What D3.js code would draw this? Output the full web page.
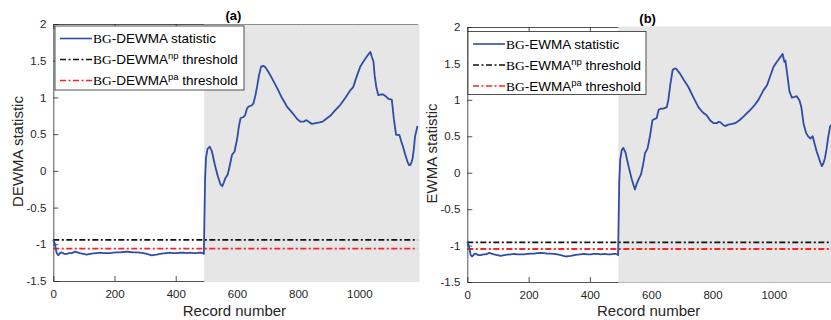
<!DOCTYPE html>
<html>
<head>
<meta charset="utf-8">
<script src="https://cdn.jsdelivr.net/npm/d3@7"></script>
<style>
  body { margin: 0; background: #fff; }
  svg { display: block; font-family: "Liberation Sans", Arial, sans-serif; }
</style>
</head>
<body>
<svg id="chart" width="831" height="320"></svg>
<script>
// record index where the out-of-control region starts
const shiftStart = 493;
const recordMax = 1190;

const yTicks = [-1.5, -1, -0.5, 0, 0.5, 1, 1.5, 2];
const xTicks = [0, 200, 400, 600, 800, 1000];

// panel (a): BG-DEWMA statistic
const dewmaStat = [
    [0, -0.94], [5, -0.99], [11, -1.12], [16, -1.15], [22, -1.12], [27, -1.11], [35, -1.13], [44, -1.13],
    [52, -1.12], [60, -1.12], [66, -1.11], [71, -1.10], [79, -1.11], [87, -1.12], [98, -1.13], [109, -1.14],
    [120, -1.13], [131, -1.125], [142, -1.12], [153, -1.115], [163, -1.12], [174, -1.12], [185, -1.12],
    [196, -1.115], [207, -1.11], [218, -1.11], [229, -1.105], [240, -1.10], [250, -1.105], [261, -1.11],
    [272, -1.11], [283, -1.115], [294, -1.12], [305, -1.13], [314, -1.14], [322, -1.15], [330, -1.145],
    [338, -1.14], [349, -1.13], [360, -1.125], [370, -1.12], [381, -1.115], [392, -1.12], [403, -1.12],
    [414, -1.115], [425, -1.115], [436, -1.12], [447, -1.115], [458, -1.12], [468, -1.12], [477, -1.115],
    [485, -1.115], [492, -1.13],
    [494, -0.6], [496, -0.1], [499, 0.18], [504, 0.30], [511, 0.33], [518, 0.27], [528, 0.08], [538, -0.08],
    [546, -0.18], [552, -0.21], [557, -0.16], [562, -0.10], [570, -0.05], [578, 0.10], [584, 0.22],
    [592, 0.26], [600, 0.42], [607, 0.62], [612, 0.72], [620, 0.73], [627, 0.76], [633, 0.85], [640, 0.88],
    [648, 0.89], [654, 0.92], [660, 1.02], [666, 1.15], [672, 1.30], [679, 1.42], [686, 1.43], [693, 1.41],
    [704, 1.34], [716, 1.25], [731, 1.13], [745, 1.01], [756, 0.93], [764, 0.87], [775, 0.82], [785, 0.77],
    [796, 0.71], [807, 0.67], [818, 0.67], [825, 0.69], [831, 0.68], [837, 0.66], [845, 0.64], [858, 0.65],
    [870, 0.66], [880, 0.67], [892, 0.71], [905, 0.75], [920, 0.82], [938, 0.90], [955, 1.00], [971, 1.10],
    [980, 1.14], [990, 1.27], [1003, 1.42], [1015, 1.50], [1025, 1.56], [1036, 1.62], [1041, 1.55],
    [1046, 1.49], [1050, 1.30], [1055, 1.15], [1062, 1.03], [1070, 1.04], [1078, 1.04], [1085, 1.02],
    [1095, 0.98], [1106, 0.97], [1113, 0.70], [1120, 0.49], [1131, 0.49], [1137, 0.40], [1144, 0.31],
    [1150, 0.22], [1157, 0.13], [1162, 0.08], [1166, 0.08], [1170, 0.11], [1174, 0.17], [1178, 0.30],
    [1182, 0.47], [1190, 0.61]
];
const dewmaNpThreshold = -0.94;
const dewmaPaThreshold = -1.06;

// panel (b): BG-EWMA statistic
const ewmaStat = [
    [0, -0.95], [5, -1.00], [11, -1.13], [16, -1.15], [22, -1.12], [27, -1.11], [35, -1.13], [44, -1.13],
    [52, -1.12], [60, -1.12], [66, -1.11], [71, -1.10], [79, -1.11], [87, -1.12], [98, -1.13], [109, -1.14],
    [120, -1.13], [131, -1.125], [142, -1.12], [153, -1.115], [163, -1.12], [174, -1.12], [185, -1.12],
    [196, -1.115], [207, -1.11], [218, -1.11], [229, -1.105], [240, -1.10], [250, -1.105], [261, -1.11],
    [272, -1.11], [283, -1.115], [294, -1.12], [305, -1.13], [314, -1.14], [322, -1.15], [330, -1.145],
    [338, -1.14], [349, -1.13], [360, -1.125], [370, -1.12], [381, -1.115], [392, -1.12], [403, -1.12],
    [414, -1.115], [425, -1.115], [436, -1.12], [447, -1.115], [458, -1.12], [468, -1.12], [477, -1.115],
    [485, -1.115], [492, -1.13],
    [494, -0.6], [496, -0.1], [499, 0.18], [504, 0.31], [509, 0.34], [516, 0.28], [526, 0.09], [536, -0.08],
    [543, -0.18], [547, -0.23], [553, -0.15], [560, -0.08], [567, -0.02], [574, 0.12], [580, 0.27],
    [588, 0.33], [596, 0.50], [604, 0.72], [612, 0.74], [618, 0.75], [624, 0.86], [632, 0.88], [640, 0.88],
    [651, 0.90], [656, 1.00], [662, 1.20], [670, 1.41], [676, 1.43], [681, 1.43], [694, 1.36], [707, 1.27],
    [721, 1.18], [737, 1.04], [754, 0.90], [768, 0.83], [781, 0.79], [792, 0.72], [803, 0.68], [814, 0.68],
    [820, 0.70], [826, 0.69], [834, 0.66], [841, 0.64], [852, 0.66], [864, 0.67], [874, 0.68], [888, 0.72],
    [901, 0.77], [918, 0.84], [934, 0.91], [950, 1.00], [966, 1.13], [978, 1.20], [988, 1.32], [999, 1.45],
    [1008, 1.51], [1015, 1.55], [1022, 1.59], [1029, 1.63], [1033, 1.55], [1035, 1.52], [1038, 1.54],
    [1044, 1.35], [1051, 1.12], [1059, 1.03], [1068, 1.04], [1075, 1.05], [1084, 0.99], [1090, 0.90],
    [1097, 0.68], [1105, 0.55], [1112, 0.50], [1119, 0.47], [1127, 0.50], [1133, 0.40], [1140, 0.29],
    [1146, 0.22], [1152, 0.14], [1157, 0.09], [1162, 0.13], [1167, 0.20], [1172, 0.32], [1178, 0.50],
    [1184, 0.64], [1190, 0.66]
];
const ewmaNpThreshold = -0.955;
const ewmaPaThreshold = -1.047;

const panels = [
    {
        title: "(a)", name: "DEWMA", yLabel: "DEWMA statistic",
        stat: dewmaStat, np: dewmaNpThreshold, pa: dewmaPaThreshold,
        left: 53.3, right: 417.5, top: 24, bottom: 281,
        titleY: 20, yLabelX: 23, legend: { x: 55, y: 26, w: 189, h: 64 }, frameOverGray: true
    },
    {
        title: "(b)", name: "EWMA", yLabel: "EWMA statistic",
        stat: ewmaStat, np: ewmaNpThreshold, pa: ewmaPaThreshold,
        left: 467.3, right: 832, top: 27, bottom: 282,
        titleY: 23, yLabelX: 437, legend: { x: 468, y: 31.5, w: 178, h: 63 }, frameOverGray: false
    }
];

const colors = {
    stat: "#2d4da6",
    np: "#111111",
    pa: "#ff2222",
    shade: "#e6e6e6",
    axis: "#262626"
};
const dashDot = "6,2.5,2,2.5";

const svg = d3.select("#chart");

panels.forEach((p) => {
    const g = svg.append("g");
    const x = d3.scaleLinear().domain([0, recordMax]).range([p.left, p.right]);
    const y = d3.scaleLinear().domain([-1.5, 2]).range([p.bottom, p.top]);

    // axes with inward ticks, like MATLAB
    const xAxis = g.append("g")
        .attr("transform", `translate(0,${p.bottom})`)
        .call(d3.axisBottom(x).tickValues(xTicks).tickSizeInner(-5).tickSizeOuter(0).tickPadding(9)
            .tickFormat(d3.format("d")));
    const xTop = g.append("g")
        .attr("transform", `translate(0,${p.top})`)
        .call(d3.axisTop(x).tickValues(xTicks).tickSizeInner(-5).tickSizeOuter(0).tickFormat(""));
    const yAxis = g.append("g")
        .attr("transform", `translate(${p.left},0)`)
        .call(d3.axisLeft(y).tickValues(yTicks).tickSizeInner(-5).tickSizeOuter(0).tickPadding(7)
            .tickFormat((d) => String(d)));

    [xAxis, xTop, yAxis].forEach((a) => {
        a.selectAll("path, line").attr("stroke", colors.axis).attr("stroke-width", 0.8);
        a.selectAll("text").attr("fill", colors.axis).style("font-size", "11.5px")
            .style("font-family", "'Liberation Sans', Arial, sans-serif");
    });

    // out-of-control shaded region
    g.append("rect")
        .attr("x", x(shiftStart))
        .attr("y", p.frameOverGray ? p.top + 0.6 : p.top - 0.5)
        .attr("width", x(recordMax) - x(shiftStart) + 2)
        .attr("height", p.bottom - p.top + (p.frameOverGray ? 0.6 : 1.2))
        .attr("fill", colors.shade);

    // thresholds
    [[p.np, colors.np], [p.pa, colors.pa]].forEach(([v, c]) => {
        g.append("line")
            .attr("x1", x(0)).attr("x2", x(recordMax))
            .attr("y1", y(v)).attr("y2", y(v))
            .attr("stroke", c).attr("stroke-width", 1.8)
            .attr("stroke-dasharray", dashDot);
    });

    const line = d3.line().x((d) => x(d[0])).y((d) => y(d[1]));
    g.append("path")
        .datum(p.stat)
        .attr("d", line)
        .attr("fill", "none")
        .attr("stroke", colors.stat)
        .attr("stroke-width", 1.8)
        .attr("stroke-linejoin", "round");

    // titles and labels
    g.append("text")
        .attr("x", (p.left + p.right) / 2 - 2).attr("y", p.titleY)
        .attr("text-anchor", "middle")
        .style("font-size", "13px").style("font-weight", "bold")
        .text(p.title);

    g.append("text")
        .attr("x", (p.left + p.right) / 2 - 1).attr("y", 316)
        .attr("text-anchor", "middle")
        .attr("fill", colors.axis)
        .style("font-size", "15px")
        .text("Record number");

    g.append("text")
        .attr("transform", `translate(${p.yLabelX},${(p.top + p.bottom) / 2 - 1}) rotate(-90)`)
        .attr("text-anchor", "middle")
        .attr("fill", colors.axis)
        .style("font-size", "15px")
        .text(p.yLabel);

    // legend
    const lg = g.append("g").attr("transform", `translate(${p.legend.x},${p.legend.y})`);
    lg.append("rect")
        .attr("width", p.legend.w).attr("height", p.legend.h)
        .attr("fill", "#fff").attr("stroke", colors.axis).attr("stroke-width", 0.8);

    const entries = [
        { color: colors.stat, dash: null, sup: null, tail: " statistic" },
        { color: colors.np, dash: dashDot, sup: "np", tail: " threshold" },
        { color: colors.pa, dash: dashDot, sup: "pa", tail: " threshold" }
    ];
    entries.forEach((e, i) => {
        const cy = 12.5 + i * 21;
        lg.append("line")
            .attr("x1", 5).attr("x2", 37).attr("y1", cy).attr("y2", cy)
            .attr("stroke", e.color).attr("stroke-width", 1.6)
            .attr("stroke-dasharray", e.dash);
        const t = lg.append("text").attr("x", 38).attr("y", cy + 4.8).style("font-size", "13.5px");
        t.append("tspan").style("font-family", "'Liberation Serif', 'Times New Roman', serif").text("BG");
        t.append("tspan").text("-" + p.name);
        if (e.sup) {
            t.append("tspan").attr("dy", -5).style("font-size", "9.5px").text(e.sup);
            t.append("tspan").attr("dy", 5).text(e.tail);
        } else {
            t.append("tspan").text(e.tail);
        }
    });
});
</script>
</body>
</html>
